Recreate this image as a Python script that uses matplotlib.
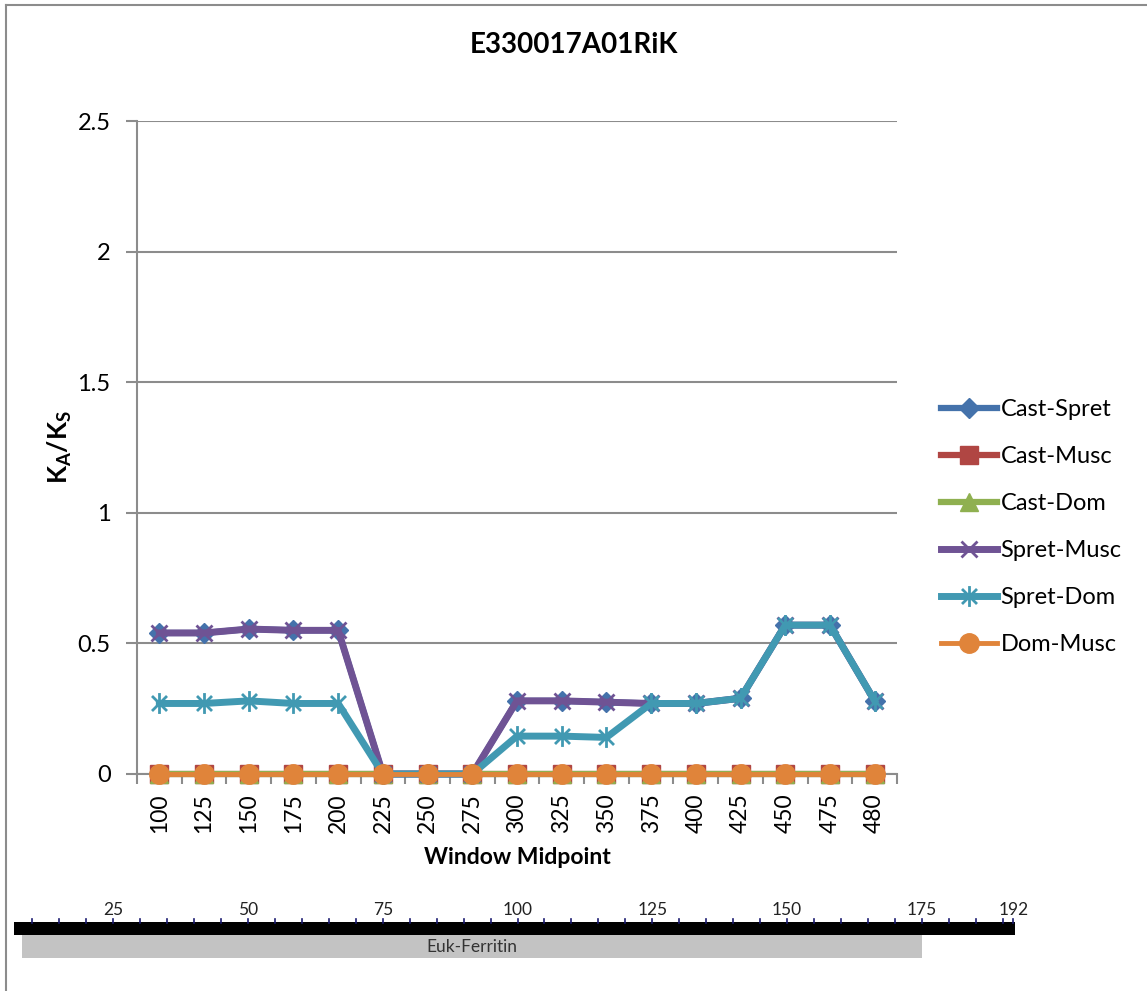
import matplotlib
matplotlib.use("Agg")
import matplotlib.pyplot as plt
from matplotlib.lines import Line2D
from matplotlib.patches import Rectangle
from matplotlib.path import Path

plt.rcParams["font.family"] = ["Lato", "DejaVu Sans"]
plt.rcParams["mathtext.fontset"] = "custom"
plt.rcParams["mathtext.rm"] = "Lato"
plt.rcParams["mathtext.bf"] = "Lato:bold"

# ---- data ----
windows = ["100", "125", "150", "175", "200", "225", "250", "275", "300",
           "325", "350", "375", "400", "425", "450", "475", "480"]
cast_spret = [0.54, 0.54, 0.555, 0.55, 0.55, 0, 0, 0, 0.28, 0.28, 0.275,
              0.27, 0.27, 0.29, 0.57, 0.57, 0.28]
cast_musc = [0] * 17
cast_dom = [0] * 17
spret_musc = [0.54, 0.54, 0.555, 0.55, 0.55, 0, 0, 0, 0.28, 0.28, 0.275,
              0.27, 0.27, 0.29, 0.57, 0.57, 0.28]
spret_dom = [0.27, 0.27, 0.28, 0.27, 0.27, 0, 0, 0, 0.145, 0.145, 0.14,
             0.27, 0.27, 0.29, 0.57, 0.57, 0.28]
dom_musc = [0] * 17

protein_length = 192
domain_name = "Euk-Ferritin"
domain_start, domain_end = 8, 175
scale_labels = [25, 50, 75, 100, 125, 150, 175, 192]

W, H = 1147, 991
fig = plt.figure(figsize=(W / 100, H / 100), dpi=100)

# outer frame (left and top edges)
fig.add_artist(Line2D([6 / W, 6 / W], [0, 1 - 5 / H], transform=fig.transFigure,
                      color="#8c8c8c", lw=1.5))
fig.add_artist(Line2D([6 / W, 1], [1 - 5 / H, 1 - 5 / H], transform=fig.transFigure,
                      color="#8c8c8c", lw=1.5))

# star marker: vertical stroke crossed by an X
d = 0.72
star = Path([(0, -1), (0, 1), (-d, -d), (d, d), (-d, d), (d, -d)],
            [Path.MOVETO, Path.LINETO, Path.MOVETO, Path.LINETO, Path.MOVETO, Path.LINETO])

# ---- main line chart ----
ax = fig.add_axes([137 / W, 1 - 774 / H, 760 / W, 653 / H])
x = list(range(len(windows)))

series = [
    ("Cast-Spret", cast_spret, "#4472ab", dict(marker="D", ms=10, mfc="#4472ab", mec="#4472ab"), 4.5),
    ("Cast-Musc", cast_musc, "#b04643", dict(marker="s", ms=13, mfc="#b04643", mec="#b04643"), 4.5),
    ("Cast-Dom", cast_dom, "#8fb050", dict(marker="^", ms=13, mfc="#8fb050", mec="#8fb050"), 4.5),
    ("Spret-Musc", spret_musc, "#6f5394", dict(marker="x", ms=12, mew=2, mec="#6f5394"), 5),
    ("Spret-Dom", spret_dom, "#4199b2", dict(marker=star, ms=15, mew=2, mfc="none", mec="#4199b2"), 5),
    ("Dom-Musc", dom_musc, "#e0843a", dict(marker="o", ms=14, mfc="#e0843a", mec="#e0843a"), 3.5),
]
handles = []
for name, vals, col, mk, lw in series:
    h, = ax.plot(x, vals, color=col, lw=lw, label=name, solid_joinstyle="round",
                 clip_on=False, zorder=3, **mk)
    handles.append(h)

ax.set_xlim(-0.5, len(windows) - 0.5)
ax.set_ylim(0, 2.5)
ax.set_yticks([0, 0.5, 1, 1.5, 2, 2.5])
ax.set_yticklabels(["0", "0.5", "1", "1.5", "2", "2.5"])
ax.yaxis.grid(True, color="#8c8c8c", lw=1.5)
ax.set_axisbelow(True)
ax.set_xticks(x)
ax.set_xticklabels(windows, rotation=90)
ax.set_xticks([i - 0.5 for i in range(len(windows) + 1)], minor=True)
ax.tick_params(axis="x", which="major", length=0, pad=14, labelsize=16.5)
ax.tick_params(axis="x", which="minor", length=7, width=1.5, color="#8c8c8c")
ax.tick_params(axis="y", length=8, width=1.5, color="#8c8c8c", pad=11, labelsize=17)
for s in ("top", "right"):
    ax.spines[s].set_visible(False)
for s in ("left", "bottom"):
    ax.spines[s].set_color("#8c8c8c")
    ax.spines[s].set_linewidth(1.5)

ax.set_xlabel("Window Midpoint", fontsize=16.5, fontweight="bold", va="center")
ax.xaxis.set_label_coords(0.5, (774 - 857) / -653 * -1)
ax.set_ylabel(r"$\mathbf{K_A/K_S}$", fontsize=19, va="center")
ax.yaxis.set_label_coords((60 - 137) / 760, 0.5)
fig.text(0.5, 1 - 45 / H, "E330017A01RiK", ha="center", va="center",
         fontsize=20, fontweight="bold")

leg = ax.legend(handles=handles, loc="upper left", bbox_to_anchor=(932 / W, 1 - 390 / H),
                bbox_transform=fig.transFigure, frameon=False, fontsize=17,
                handlelength=2.35, handletextpad=0.15, labelspacing=1.1, borderaxespad=0)

# ---- protein domain track ----
px0, ppu = -21.5, 5.39  # pixel offset and pixels per residue
dax = fig.add_axes([0, 0, 1, 1], facecolor="none")
dax.set_xlim((0 - px0) / ppu, (W - px0) / ppu)
dax.set_ylim(H, 0)
dax.axis("off")
dax.add_patch(Rectangle((6.6, 922), protein_length + 0.3 - 6.6, 13, color="black", lw=0))
for t in list(range(10, protein_length, 5)) + [protein_length]:
    dax.plot([t, t], [919, 923], color="#1a1a70", lw=1.2)
for t in scale_labels:
    dax.text(t, 910, str(t), ha="center", va="center", fontsize=12.5, color="#222222",
             family=["Liberation Sans Narrow", "Lato", "DejaVu Sans"])
dax.add_patch(Rectangle((domain_start, 935), domain_end - domain_start, 23,
                        color="#c3c3c3", lw=0))
dax.text((domain_start + domain_end) / 2, 946.5, domain_name, ha="center", va="center",
         fontsize=12.5, color="#333333", family=["Liberation Sans Narrow", "Lato", "DejaVu Sans"])

fig.savefig("out.png", dpi=100)
